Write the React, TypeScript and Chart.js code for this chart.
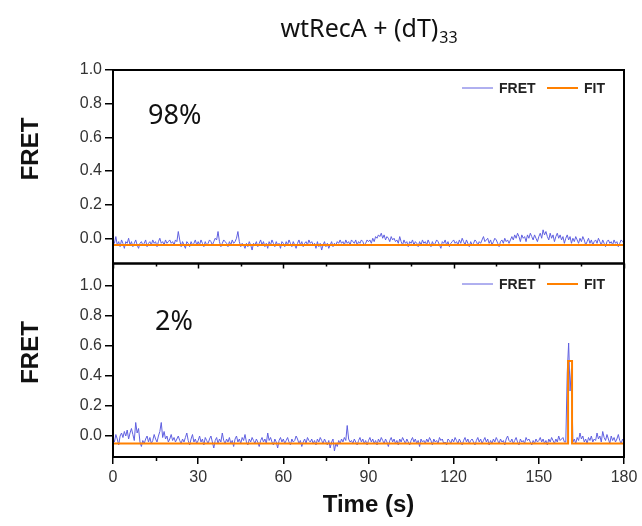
import { useEffect, useRef } from 'react';
import { Chart, registerables } from 'chart.js';

Chart.register(...registerables);

// ---- data ----
const frameInterval = 0.5; // seconds between trace samples

const fretTop = [
  -0.01, -0.03, 0.01, -0.04, -0.02, -0.05, -0.01, -0.03, -0.06, -0.02, -0.03, 0.0, -0.04, -0.02, -0.05, -0.03, -0.01, -0.04, -0.06, -0.03,
  -0.02, -0.04, -0.03, -0.01, -0.05, -0.03, -0.02, -0.04, -0.01, -0.03, -0.02, -0.05, -0.02, 0.0, -0.03, -0.02, -0.04, -0.01, -0.03, -0.02,
  -0.01, -0.03, -0.02, -0.04, -0.01, -0.02, 0.04, -0.01, -0.05, -0.02, -0.04, -0.06, -0.02, -0.03, -0.05, -0.02, -0.04, -0.03, -0.01, -0.04,
  -0.02, -0.04, -0.01, -0.03, -0.05, -0.02, -0.04, -0.03, -0.01, -0.02, -0.04, -0.02, 0.0, -0.01, 0.04, -0.02, -0.05, -0.03, -0.01, -0.02,
  -0.03, -0.05, -0.02, -0.04, -0.01, -0.03, -0.02, 0.0, 0.04, -0.02, -0.05, -0.03, -0.04, -0.06, -0.03, -0.05, -0.02, -0.04, -0.07, -0.03,
  -0.04, -0.02, -0.05, -0.03, -0.01, -0.04, -0.02, -0.05, -0.03, -0.06, -0.02, -0.04, -0.01, -0.03, -0.05, -0.02, -0.04, -0.03, -0.06, -0.02,
  -0.03, -0.05, -0.02, -0.04, -0.01, -0.03, -0.05, -0.02, -0.04, -0.06, -0.03, -0.01, -0.04, -0.02, -0.05, -0.03, -0.02, -0.04, -0.01, -0.03,
  -0.02, -0.04, -0.03, -0.06, -0.02, -0.05, -0.03, -0.07, -0.04, -0.02, -0.05, -0.03, -0.06, -0.04, -0.02, -0.05, -0.03, -0.04, -0.02, -0.03,
  -0.01, -0.03, -0.02, -0.04, -0.01, -0.03, -0.02, -0.04, -0.01, -0.02, -0.03, -0.01, -0.04, -0.02, -0.03, -0.01, -0.02, -0.04, -0.03, -0.01,
  -0.02, -0.01, -0.03, 0.0, -0.02, 0.01, 0.0, 0.02, 0.01, 0.03, 0.0, 0.02, -0.01, 0.01, 0.0, -0.02, 0.01, -0.01, 0.0, -0.02,
  -0.01, -0.03, 0.01, -0.02, -0.04, -0.01, -0.03, -0.02, -0.05, -0.02, -0.03, -0.01, -0.04, -0.02, -0.03, -0.05, -0.02, -0.04, -0.01, -0.03,
  -0.02, -0.04, -0.01, -0.03, -0.05, -0.02, -0.04, -0.03, -0.01, -0.02, -0.04, -0.06, -0.02, -0.03, -0.01, -0.04, -0.02, -0.05, -0.03, -0.02,
  -0.01, -0.03, -0.02, -0.04, -0.01, -0.03, 0.0, -0.02, -0.04, -0.01, -0.03, -0.05, -0.02, -0.04, -0.03, -0.01, -0.02, -0.04, -0.02, -0.03,
  -0.01, 0.01, -0.02, -0.01, 0.0, -0.03, -0.01, -0.04, -0.02, 0.0, -0.01, -0.03, -0.05, -0.02, -0.01, -0.03, 0.0, -0.02, -0.01, -0.03,
  -0.01, 0.01, -0.01, 0.02, 0.0, 0.03, 0.01, -0.02, 0.02, 0.0, 0.01, -0.02, 0.02, 0.0, 0.03, 0.01, -0.01, 0.02, 0.0, -0.02,
  0.01, 0.03, 0.0, 0.05, 0.02, 0.04, 0.01, -0.01, 0.03, 0.0, 0.02, -0.02, 0.01, 0.03, 0.0, 0.02, -0.01, 0.01, -0.03, 0.0,
  0.02, -0.01, 0.01, -0.03, 0.0, -0.02, 0.01, -0.01, -0.03, 0.0, -0.02, 0.01, -0.01, -0.04, -0.02, 0.0, -0.03, -0.01, -0.04, -0.02,
  -0.01, -0.03, 0.0, -0.02, -0.04, -0.01, -0.03, -0.05, -0.02, -0.01, -0.03, -0.02, -0.04, -0.01, -0.03, -0.02, -0.05, -0.03, -0.01, -0.02,
  -0.03,
];

const fretBottom = [
  -0.01, -0.04, 0.01, -0.02, -0.06, 0.0, 0.02, -0.01, 0.03, 0.0, 0.04, -0.02, 0.02, 0.05, 0.01, -0.03, 0.09, 0.02, 0.05, -0.04,
  -0.07, -0.03, -0.05, -0.02, 0.0, -0.04, -0.01, -0.05, -0.03, 0.01, -0.02, -0.04, 0.0, 0.03, 0.09, -0.01, 0.03, -0.02, 0.0, -0.04,
  -0.02, 0.01, -0.03, -0.01, -0.04, -0.02, 0.0, -0.03, -0.05, -0.02, -0.04, -0.01, 0.02, -0.03, -0.06, -0.02, 0.01, -0.04, -0.02, -0.05,
  -0.03, 0.0, -0.04, -0.02, -0.06, -0.01, -0.03, -0.05, -0.02, 0.0, -0.04, -0.08, -0.03, -0.01, -0.05, -0.02, -0.04, 0.02, -0.03, -0.05,
  -0.02, -0.04, -0.01, -0.05, -0.03, -0.07, -0.02, 0.0, -0.04, -0.02, -0.05, -0.01, -0.03, 0.01, -0.04, -0.06, -0.02, -0.04, -0.01, -0.03,
  -0.05, -0.02, -0.04, -0.07, -0.03, -0.01, -0.04, -0.02, -0.05, 0.02, -0.03, -0.01, -0.04, -0.06, -0.02, -0.04, -0.08, -0.03, -0.01, -0.04,
  -0.02, -0.05, -0.03, -0.01, -0.04, -0.06, -0.02, -0.04, -0.03, 0.0, -0.02, -0.05, -0.03, -0.07, -0.04, -0.02, -0.05, -0.01, -0.03, -0.04,
  -0.02, -0.05, -0.03, -0.06, -0.02, -0.04, -0.01, -0.03, -0.05, -0.02, -0.04, -0.06, -0.03, -0.08, -0.04, -0.02, -0.1, -0.05, -0.07, -0.03,
  -0.05, -0.02, -0.04, -0.01, -0.03, 0.07, -0.02, -0.04, -0.03, -0.05, -0.02, -0.04, -0.06, -0.03, -0.01, -0.04, -0.02, -0.05, -0.03, -0.06,
  -0.03, -0.01, -0.04, -0.02, -0.05, -0.03, -0.06, -0.02, -0.04, -0.01, -0.03, -0.05, -0.02, -0.04, -0.07, -0.03, -0.01, -0.04, -0.02, -0.05,
  -0.03, -0.06, -0.02, -0.04, -0.01, -0.03, -0.05, -0.02, -0.04, -0.06, -0.03, -0.01, -0.04, -0.02, -0.05, -0.03, -0.07, -0.02, -0.04, -0.03,
  -0.05, -0.02, -0.04, -0.01, -0.03, -0.06, -0.02, -0.04, -0.03, -0.05, -0.01, -0.03, -0.02, -0.05, -0.04, -0.06, -0.02, -0.03, -0.05, -0.02,
  -0.04, -0.01, -0.03, -0.05, -0.02, -0.04, -0.06, -0.03, -0.01, -0.04, -0.02, -0.05, -0.03, -0.02, -0.04, -0.06, -0.03, -0.01, -0.04, -0.02,
  -0.05, -0.03, -0.01, -0.04, -0.02, -0.06, -0.03, -0.05, -0.02, -0.04, -0.01, -0.03, -0.05, -0.02, -0.04, -0.03, -0.06, -0.02, 0.0, -0.03,
  -0.04, -0.02, -0.05, -0.03, -0.01, -0.04, -0.06, -0.02, -0.04, -0.03, -0.05, -0.01, -0.03, -0.02, -0.04, -0.06, -0.03, -0.05, -0.02, -0.04,
  -0.03, -0.01, -0.04, -0.02, -0.05, -0.03, -0.06, -0.02, -0.04, -0.01, -0.03, -0.05, -0.02, -0.04, 0.0, -0.03, -0.02, -0.01, -0.04, -0.04,
  0.42, 0.62, 0.3, 0.45, -0.04, -0.02, -0.05, -0.01, -0.03, 0.02, -0.02, 0.0, -0.04, -0.02, -0.05, -0.01, -0.03, 0.0, -0.04, -0.02,
  -0.03, 0.02, -0.02, 0.0, -0.04, 0.03, -0.01, -0.03, 0.01, -0.02, -0.05, 0.0, -0.03, -0.01, -0.04, -0.02, 0.01, -0.03, -0.05, -0.02,
  -0.04,
];

const fitTopTimes = [0, 180];
const fitTopLevels = [-0.04, -0.04];
const fitBottomTimes = [0, 160.3, 160.3, 161.7, 161.7, 180];
const fitBottomLevels = [-0.05, -0.05, 0.5, 0.5, -0.05, -0.05];

const xMajorTicks = [0, 30, 60, 90, 120, 150, 180];
const xMinorTicks = [15, 45, 75, 105, 135, 165];
const yTicks = [0, 0.2, 0.4, 0.6, 0.8, 1.0];
const panelPercents = ['98%', '2%'];
const legendLabels = ['FRET', 'FIT'];
const titleMain = 'wtRecA + (dT)';
const titleSub = '33';
const yTitle = 'FRET';
const xTitle = 'Time (s)';

const FRET_COLOR = '#6060e0';
const FIT_COLOR = '#ff8000';

const toPoints = (xs: number[], ys: number[]) => ys.map((y, i) => ({ x: xs[i], y }));
const traceTimes = (arr: number[]) => arr.map((_, i) => i * frameInterval);

const framePlugin = {
  id: 'frame',
  afterDatasetsDraw(chart: any) {
    const { ctx, chartArea } = chart;
    const { left, right } = chartArea;
    const xs = chart.scales.x;
    const panels = [chart.scales.yTop, chart.scales.yBottom];
    ctx.save();
    // boxes
    ctx.strokeStyle = '#000';
    ctx.lineWidth = 2;
    panels.forEach((s: any) => {
      ctx.strokeRect(left, s.top, right - left, s.bottom - s.top);
    });
    // minor ticks on bottom axis and ticks on the shared boundary
    ctx.lineWidth = 1.5;
    const yb = chart.scales.yBottom;
    ctx.beginPath();
    xMinorTicks.forEach((v) => {
      const px = Math.round(xs.getPixelForValue(v)) + 0.5;
      ctx.moveTo(px, yb.bottom);
      ctx.lineTo(px, yb.bottom + 4);
      ctx.moveTo(px, yb.top);
      ctx.lineTo(px, yb.top + 3);
    });
    xMajorTicks.forEach((v) => {
      const px = Math.round(xs.getPixelForValue(v)) + 0.5;
      ctx.moveTo(px, yb.top);
      ctx.lineTo(px, yb.top + 5);
    });
    ctx.stroke();
    ctx.restore();
  },
  afterDraw(chart: any) {
    const { ctx, chartArea } = chart;
    const { left, right } = chartArea;
    const yt = chart.scales.yTop;
    const yb = chart.scales.yBottom;
    const panels = [yt, yb];
    ctx.save();
    // legends
    const legendOffsets = [18, 20.5];
    panels.forEach((s: any, i: number) => {
      const ly = s.top + legendOffsets[i];
      ctx.lineWidth = 1;
      ctx.strokeStyle = FRET_COLOR;
      ctx.beginPath();
      ctx.moveTo(right - 162, ly);
      ctx.lineTo(right - 131, ly);
      ctx.stroke();
      ctx.lineWidth = 2;
      ctx.strokeStyle = FIT_COLOR;
      ctx.beginPath();
      ctx.moveTo(right - 77, ly);
      ctx.lineTo(right - 46, ly);
      ctx.stroke();
      ctx.fillStyle = '#222';
      ctx.font = 'bold 14px "Liberation Sans", Arial, sans-serif';
      ctx.textBaseline = 'middle';
      ctx.textAlign = 'left';
      ctx.fillText(legendLabels[0], right - 125, ly + 1);
      ctx.fillText(legendLabels[1], right - 40, ly + 1);
    });
    // percent labels
    ctx.fillStyle = '#111';
    ctx.font = '27px "Noto Sans", sans-serif';
    ctx.textBaseline = 'middle';
    ctx.textAlign = 'left';
    ctx.fillText(panelPercents[0], left + 35, yt.top + 46);
    ctx.fillText(panelPercents[1], left + 42, yb.top + 59);
    // y titles
    ctx.font = 'bold 24px "Liberation Sans", Arial, sans-serif';
    ctx.textAlign = 'center';
    const yCenters = [yt.top + 79, yb.top + 89];
    yCenters.forEach((cy) => {
      ctx.save();
      ctx.translate(31, cy);
      ctx.rotate(-Math.PI / 2);
      ctx.fillText(yTitle, 0, 0);
      ctx.restore();
    });
    // x title
    ctx.fillText(xTitle, (left + right) / 2, 505);
    // main title with subscript
    ctx.font = '25px "Noto Sans", sans-serif';
    const mainW = ctx.measureText(titleMain).width;
    ctx.font = '16px "Noto Sans", sans-serif';
    const subW = ctx.measureText(titleSub).width;
    const startX = (left + right) / 2 - (mainW + subW) / 2;
    ctx.textAlign = 'left';
    ctx.textBaseline = 'alphabetic';
    ctx.font = '25px "Noto Sans", sans-serif';
    ctx.fillText(titleMain, startX, 37);
    ctx.font = '16px "Noto Sans", sans-serif';
    ctx.fillText(titleSub, startX + mainW + 1, 43);
    ctx.restore();
  },
};

export default function App() {
  const canvasRef = useRef<HTMLCanvasElement | null>(null);

  useEffect(() => {
    document.body.style.margin = '0';
    const canvas = canvasRef.current;
    if (!canvas) return;

    const tickFont = { family: '"Liberation Sans", Arial, sans-serif', size: 16 };
    const yScale = (min: number, max: number) => ({
      type: 'linear' as const,
      position: 'left' as const,
      stack: 'fret',
      stackWeight: 1,
      offset: false,
      min,
      max,
      afterBuildTicks: (s: any) => {
        s.ticks = yTicks.map((v) => ({ value: v }));
      },
      afterFit: (s: any) => {
        s.width = 113;
      },
      ticks: {
        font: tickFont,
        color: '#333',
        padding: 3,
        callback: (v: any) => Number(v).toFixed(1),
      },
      grid: {
        display: true,
        drawOnChartArea: false,
        drawTicks: true,
        tickLength: 8,
        color: '#000',
        lineWidth: 1.5,
      },
      border: { display: false },
    });

    const chart = new Chart(canvas, {
      type: 'line',
      data: {
        datasets: [
          {
            label: 'FIT top',
            data: toPoints(fitTopTimes, fitTopLevels),
            yAxisID: 'yTop',
            borderColor: FIT_COLOR,
            borderWidth: 2,
            pointRadius: 0,
          },
          {
            label: 'FRET top',
            data: toPoints(traceTimes(fretTop), fretTop),
            yAxisID: 'yTop',
            borderColor: FRET_COLOR,
            borderWidth: 1,
            pointRadius: 0,
          },
          {
            label: 'FIT bottom',
            data: toPoints(fitBottomTimes, fitBottomLevels),
            yAxisID: 'yBottom',
            borderColor: FIT_COLOR,
            borderWidth: 2,
            pointRadius: 0,
          },
          {
            label: 'FRET bottom',
            data: toPoints(traceTimes(fretBottom), fretBottom),
            yAxisID: 'yBottom',
            borderColor: FRET_COLOR,
            borderWidth: 1,
            pointRadius: 0,
          },
        ],
      },
      options: {
        responsive: false,
        animation: false,
        events: [],
        layout: { padding: { top: 70, right: 18, left: 0, bottom: 0 } },
        plugins: {
          legend: { display: false },
          tooltip: { enabled: false },
          title: { display: false },
        },
        scales: {
          x: {
            type: 'linear',
            position: 'bottom',
            min: 0,
            max: 180,
            afterBuildTicks: (s: any) => {
              s.ticks = xMajorTicks.map((v) => ({ value: v }));
            },
            afterFit: (s: any) => {
              s.height = 69;
            },
            ticks: { font: tickFont, color: '#333', padding: 4, maxRotation: 0 },
            grid: {
              display: true,
              drawOnChartArea: false,
              drawTicks: true,
              tickLength: 7,
              color: '#000',
              lineWidth: 1.5,
            },
            border: { display: false },
          },
          yBottom: yScale(-0.14, 1.15),
          yTop: yScale(-0.15, 1.0),
        },
      },
      plugins: [framePlugin],
    });

    return () => chart.destroy();
  }, []);

  return <canvas ref={canvasRef} width={642} height={526} />;
}
